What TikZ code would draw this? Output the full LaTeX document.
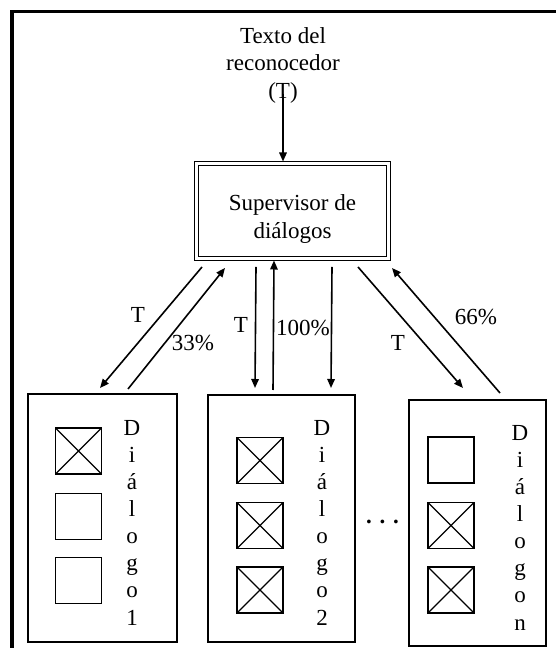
\documentclass[tikz,border=0pt]{standalone}
\usepackage{fontspec}
\setmainfont{Liberation Serif}
\usetikzlibrary{arrows.meta,positioning,calc}

\tikzset{
  arr/.style={line width=1.6pt,-{Triangle[length=9pt,width=7.5pt]}},
  supbox/.style={draw,double,line width=1.4pt,double distance=2.2pt,
    minimum width=192pt,minimum height=95pt,inner sep=0pt,outer sep=0pt},
  dlgbox/.style={draw,line width=1.7pt,inner sep=0pt,outer sep=0pt},
  emptybox/.style={draw,line width=1.7pt,minimum size=46pt,inner sep=0pt,outer sep=0pt},
  crossbox/.style={emptybox,path picture={
    \draw[line width=1.3pt] (path picture bounding box.north west) -- (path picture bounding box.south east)
      (path picture bounding box.north east) -- (path picture bounding box.south west);}},
  lbl/.style={font=\fontsize{23}{26}\selectfont,inner sep=0pt},
  vert/.style={font=\fontsize{23}{27.1}\selectfont,align=center,inner sep=0pt}
}

\begin{document}
\begin{tikzpicture}[x=1pt,y=1pt]
  \useasboundingbox (0,0) rectangle (556,648);

  % Frame
  \draw[line width=3.5pt] (12,0) -- (12,636.5) -- (556,636.5);

  % Recognizer text and supervisor
  \node[lbl,align=center,font=\fontsize{23}{27.5}\selectfont] (src) at (283,582.6)
    {Texto del\\reconocedor\\(T)};
  \node[supbox] (sup) at (292.5,437) {};
  \node[lbl,align=center,font=\fontsize{23}{28}\selectfont] (suptxt) at ([yshift=-8pt]sup.center)
    {Supervisor de\\diálogos};
  \draw[arr] ([yshift=10pt]src.south) -- ([yshift=2pt]src.south |- sup.north);

  % Dialogues
  \node[dlgbox,minimum width=149pt,minimum height=248pt] (d1) at (102.5,130) {};
  \node[dlgbox,minimum width=147pt,minimum height=247pt] (d2) at (281.5,129.5) {};
  \node[dlgbox,minimum width=137pt,minimum height=246pt] (d3) at (477.5,125) {};

  % Slots
  \foreach \y/\s [count=\i] in {197/crossbox,131.5/emptybox,67.5/emptybox}
    \node[\s] (a\i) at (78.5,\y) {};
  \foreach \y/\s [count=\i] in {187.5/crossbox,122.5/crossbox,58/crossbox}
    \node[\s] (b\i) at (260,\y) {};
  \foreach \y/\s [count=\i] in {188/emptybox,122.5/crossbox,58/crossbox}
    \node[\s] (c\i) at (451,\y) {};

  % Vertical names
  \node[vert] (t1) at (132,125.3) {D\\i\\á\\l\\o\\g\\o\\1};
  \node[vert] (t2) at (322,125.3) {D\\i\\á\\l\\o\\g\\o\\2};
  \node[vert] (t3) at (520,120.3) {D\\i\\á\\l\\o\\g\\o\\n};
  \node[lbl] (dots) at (382.5,126) {\textbf{. . .}};

  % Text down, scores up
  \draw[arr] ([shift={(5.5,-8.5)}]sup.south west) -- ([shift={(-2.5,6)}]d1.north);
  \draw[arr] ([shift={(25.5,5)}]d1.north) -- ([shift={(28.5,-9.5)}]sup.south west);
  \draw[arr] ([shift={(59.5,-8.5)}]sup.south west) -- ([shift={(-26.5,7)}]d2.north);
  \draw[arr] ([shift={(-8.5,5)}]d2.north) -- ([shift={(77.5,-2)}]sup.south west);
  \draw[arr] ([shift={(135.5,-8.5)}]sup.south west) -- ([shift={(49.5,7)}]d2.north);
  \draw[arr] ([shift={(-30.5,-8.5)}]sup.south east) -- ([shift={(-14.5,12)}]d3.north);
  \draw[arr] ([shift={(22.5,7)}]d3.north) -- ([shift={(3.5,-9.5)}]sup.south east);

  % Arrow labels
  \node[lbl] (l1) at (138,333) {T};
  \node[lbl] (l2) at (193,305) {33\%};
  \node[lbl] (l3) at (241,323) {T};
  \node[lbl] (l4) at (303,320) {100\%};
  \node[lbl] (l5) at (398,305) {T};
  \node[lbl] (l6) at (476,331) {66\%};
\end{tikzpicture}
\end{document}
